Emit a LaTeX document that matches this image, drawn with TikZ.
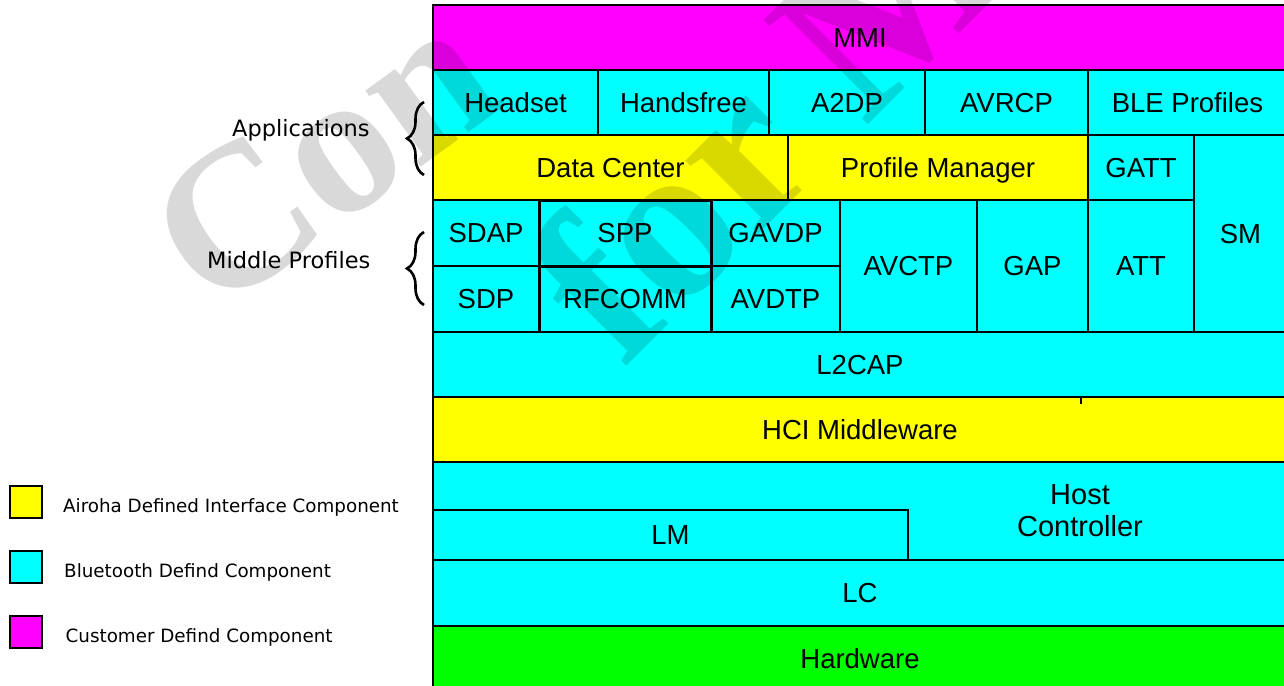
\documentclass[tikz,border=0pt]{standalone}
\usepackage{fontspec}
\setmainfont{Liberation Sans}
\newfontfamily\notefont{DejaVu Sans}
\newfontfamily\stampfont{Liberation Serif}
\usetikzlibrary{decorations.pathreplacing}

\definecolor{mmicol}{RGB}{255,0,255}
\definecolor{btcol}{RGB}{0,255,255}
\definecolor{aircol}{RGB}{255,255,0}
\definecolor{hwcol}{RGB}{0,255,0}

\tikzset{
  layer/.style={draw=black, line width=1.8pt, inner sep=0pt, outer sep=0pt,
    font=\fontsize{27.5}{30}\selectfont, text height=19.7pt, text depth=0pt},
  heavy/.style={line width=3pt},
  swatch/.style={draw=black, line width=2.6pt, inner sep=0pt,
    minimum width=32pt, minimum height=32pt},
  note/.style={font=\notefont\fontsize{18.3}{22}\selectfont, anchor=base west, inner sep=0pt},
  side/.style={font=\notefont\fontsize{22.5}{27}\selectfont, anchor=base west, inner sep=0pt},
  grp/.style={decorate, decoration={brace, amplitude=17pt}, line width=2.6pt},
  stamp/.style={font=\stampfont\bfseries\fontsize{#1}{#1}\selectfont, text=black,
    text opacity=0.15, anchor=base west, inner sep=0pt}
}

% \stackbox[extra]{name}{x1}{y1}{x2}{y2}{fill}{text}
\newcommand\stackbox[8][]{%
  \node[layer, fill=#7, minimum width={#5-#3}, minimum height={#6-#4}, #1]
    (#2) at ({(#3+#5)/2},{(#4+#6)/2}) {#8};}

\begin{document}
\begin{tikzpicture}[x=1pt, y=-1pt]
\useasboundingbox (0,0) rectangle (1284,685);
\clip (0,0) rectangle (1284,685);

% customer layer
\stackbox{mmi}{433}{5}{1287}{70}{mmicol}{MMI}

% applications
\stackbox{headset}{433}{70}{598}{135}{btcol}{Headset}
\stackbox{handsfree}{598}{70}{769}{135}{btcol}{Handsfree}
\stackbox{atwodp}{769}{70}{925}{135}{btcol}{A2DP}
\stackbox{avrcp}{925}{70}{1088}{135}{btcol}{AVRCP}
\stackbox{ble}{1088}{70}{1287}{135}{btcol}{BLE Profiles}
\stackbox{datacenter}{433}{135}{788}{200}{aircol}{Data Center}
\stackbox{profmgr}{788}{135}{1088}{200}{aircol}{Profile Manager}
\stackbox{gatt}{1088}{135}{1194}{200}{btcol}{GATT}
\stackbox{sm}{1194}{135}{1287}{332}{btcol}{SM}

% middle profiles
\stackbox{sdap}{433}{200}{539}{266}{btcol}{SDAP}
\stackbox{gavdp}{711}{200}{840}{266}{btcol}{GAVDP}
\stackbox{sdp}{433}{266}{539}{332}{btcol}{SDP}
\stackbox{avdtp}{711}{266}{840}{332}{btcol}{AVDTP}
\stackbox{avctp}{840}{200}{977}{332}{btcol}{AVCTP}
\stackbox{gap}{977}{200}{1088}{332}{btcol}{GAP}
\stackbox{att}{1088}{200}{1194}{332}{btcol}{ATT}
\stackbox[heavy]{spp}{539}{200}{711}{266}{btcol}{SPP}
\stackbox[heavy]{rfcomm}{539}{266}{711}{332}{btcol}{RFCOMM}

% lower stack
\stackbox{ltwocap}{433}{332}{1287}{397}{btcol}{L2CAP}
\stackbox{hci}{433}{397}{1287}{462}{aircol}{HCI Middleware}
\stackbox{hostctl}{433}{462}{1287}{560}{btcol}{}
\node[font=\fontsize{29}{32}\selectfont, align=center, inner sep=0pt] (hostlbl) at (1080,511) {Host\\Controller};
\stackbox{lm}{433}{510}{908}{560}{btcol}{LM}
\stackbox{lc}{433}{560}{1287}{626}{btcol}{LC}
\stackbox{hw}{433}{626}{1287}{692}{hwcol}{Hardware}
\draw[line width=1.6pt] (1081,398) -- (1081,404);

% group labels with braces
\node[side] (applbl) at (232,136.7) {Applications};
\node[side] (midlbl) at (207,268) {Middle Profiles};
\coordinate (appbot) at (424,175);
\coordinate (apptop) at (424,102);
\coordinate (midbot) at (424,305);
\coordinate (midtop) at (424,232);
\draw[grp] (appbot) -- (apptop);
\draw[grp] (midbot) -- (midtop);

% legend
\node[swatch, fill=aircol] (keyair) at (26,502) {};
\node[swatch, fill=btcol] (keybt) at (26,567) {};
\node[swatch, fill=mmicol] (keycus) at (26,632) {};
\node[note] (txtair) at (63,512.3) {Airoha Defined Interface Component};
\node[note] (txtbt) at (64,577.3) {Bluetooth Defind Component};
\node[note] (txtcus) at (65.5,642.3) {Customer Defind Component};

% watermark
\node[stamp=205, rotate=36] (stampa) at (214,318) {Con};
\node[stamp=225, rotate=45] (stampb) at (622,371) {for M};
\end{tikzpicture}
\end{document}
